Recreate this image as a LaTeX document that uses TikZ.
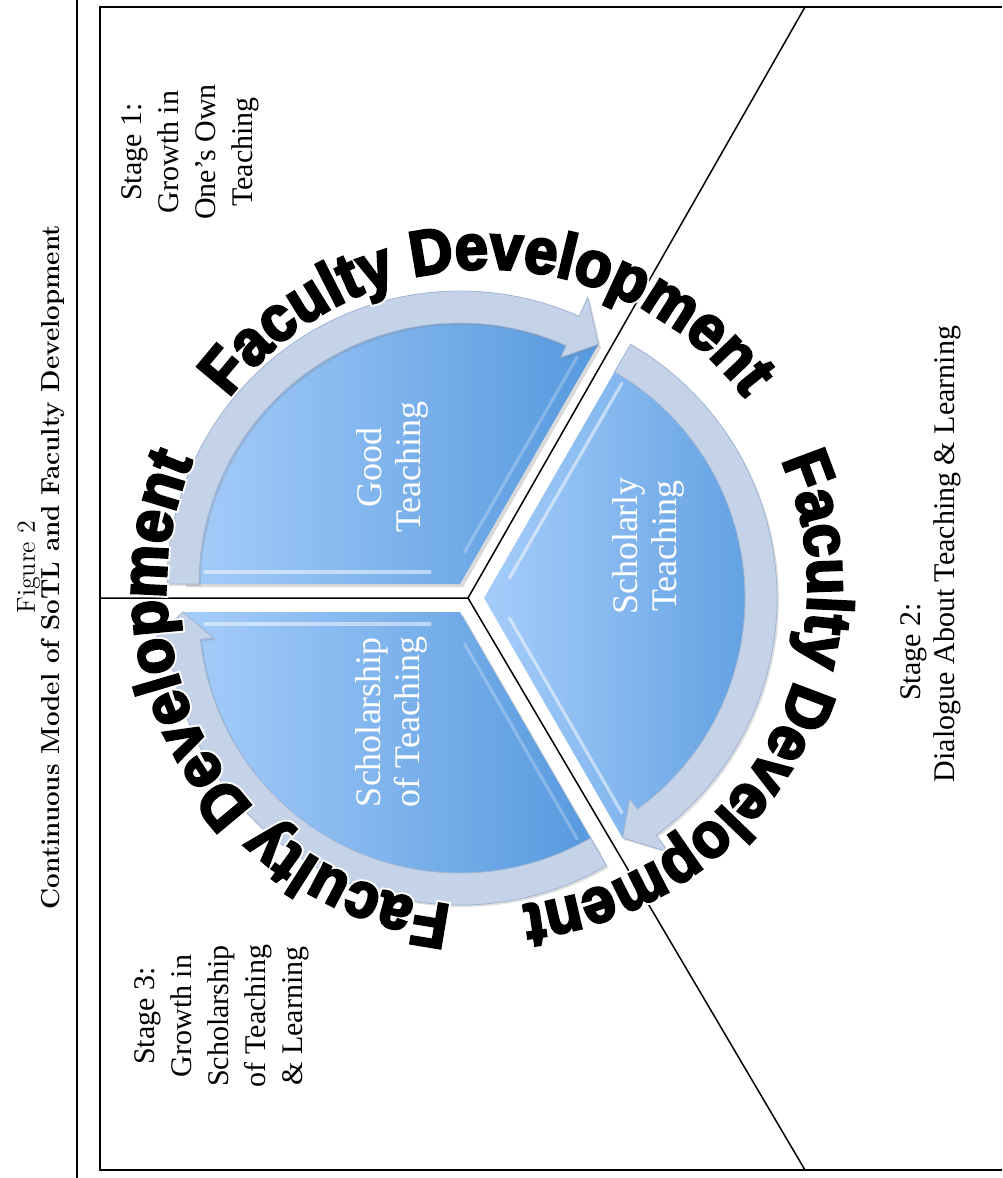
\documentclass[tikz,border=0pt]{standalone}
\usepackage{fontspec}
\usetikzlibrary{decorations.text,shadows}

\newfontfamily\stagefont{Liberation Serif}
\newfontfamily\wordart[FakeBold=4, FakeStretch=0.93]{Liberation Sans Bold}
\newfontfamily\wordhalo[FakeBold=10, FakeStretch=0.93]{Liberation Sans Bold}

\definecolor{pielight}{RGB}{166,205,250}
\definecolor{piedark}{RGB}{86,153,222}
\definecolor{ringfill}{RGB}{197,211,233}
\definecolor{ringedge}{RGB}{160,180,212}

\begin{document}
\begin{tikzpicture}[
  x=0.5pt, y=0.5pt,
  slice/.style={left color=pielight, right color=piedark,
    drop shadow={shadow xshift=1.5pt, shadow yshift=-1.5pt, opacity=0.3}},
  arrowring/.style={fill=ringfill, draw=ringedge, line width=0.4pt,
    drop shadow={shadow xshift=1pt, shadow yshift=-1pt, opacity=0.25}},
  edgeglint/.style={white, opacity=0.5, line width=1.6pt, line cap=round},
  divider/.style={line width=0.75pt},
  seglabel/.style={rotate=90, text=white, align=center,
    font=\stagefont\fontsize{18}{19.5}\selectfont},
  stagetext/.style={rotate=90, align=center,
    font=\stagefont\fontsize{15}{18.5}\selectfont},
  figtitle/.style={rotate=90, align=center, font=\fontsize{13}{12.5}\selectfont},
  wordring/.style={decorate, decoration={text along path, text align=center,
    text={|#1\fontsize{32}{32}\selectfont|Faculty Development}}}
]
  \useasboundingbox (0,0) rectangle (1002,-1178);

  % caption column and the page rule beside it
  \node[figtitle] (title) at (41,-567)
    {Figure 2\\\textbf{Continuous Model of SoTL and Faculty Development}};
  \draw[line width=1pt] (77,0) -- (77,-1178);

  % frame, open on the right
  \draw[line width=1.1pt] (1002,-7) -- (100,-7) -- (100,-1170) -- (1002,-1170);

  \coordinate (hub) at (468,-598);
  \coordinate (leftend) at (100,-598);
  \coordinate (topend) at (805,-7);
  \coordinate (botend) at (805,-1170);

  % Good Teaching
  \begin{scope}[shift={(460,-584)}]
    \shade[slice] (0,0) -- (180:277) arc[start angle=180, end angle=60, radius=277] -- cycle;
    \draw[edgeglint] ([shift={(90:12)}]180:30) -- ([shift={(90:12)}]180:255);
    \draw[edgeglint, opacity=0.25] ([shift={(150:12)}]60:30) -- ([shift={(150:12)}]60:255);
    \path[arrowring] (180:293) arc[start angle=180, end angle=66, radius=293]
      -- (66:314) -- (60:277) -- (66:248) -- (66:261)
      arc[start angle=66, end angle=180, radius=261] -- cycle;
  \end{scope}

  % Scholarly Teaching
  \begin{scope}[shift={(484,-598)}]
    \shade[slice] (0,0) -- (60:277) arc[start angle=60, end angle=-60, radius=277] -- cycle;
    \draw[edgeglint] ([shift={(-30:12)}]60:30) -- ([shift={(-30:12)}]60:255);
    \draw[edgeglint] ([shift={(30:12)}]-60:30) -- ([shift={(30:12)}]-60:255);
    \path[arrowring] (60:293) arc[start angle=60, end angle=-54, radius=293]
      -- (-54:314) -- (-60:277) -- (-54:248) -- (-54:261)
      arc[start angle=-54, end angle=60, radius=261] -- cycle;
  \end{scope}

  % Scholarship of Teaching
  \begin{scope}[shift={(460,-612)}]
    \shade[slice] (0,0) -- (-60:277) arc[start angle=-60, end angle=-180, radius=277] -- cycle;
    \draw[edgeglint, opacity=0.25] ([shift={(-150:12)}]-60:30) -- ([shift={(-150:12)}]-60:255);
    \draw[edgeglint] ([shift={(-90:12)}]-180:30) -- ([shift={(-90:12)}]-180:255);
    \path[arrowring] (-60:293) arc[start angle=-60, end angle=-174, radius=293]
      -- (-174:314) -- (-180:277) -- (-174:248) -- (-174:261)
      arc[start angle=-174, end angle=-60, radius=261] -- cycle;
  \end{scope}

  % stage boundaries
  \draw[divider] (leftend) -- (hub) -- (topend);
  \draw[divider] (hub) -- (botend);

  % lettering round the wheel, three times; white halo first
  \begin{scope}[shift={(487,-588)}]
    \path[wordring=\wordhalo\color{white}] (150:321 and 319) arc[start angle=150, end angle=30, x radius=321, y radius=319];
    \path[wordring=\wordhalo\color{white}] (30:321 and 319) arc[start angle=30, end angle=-90, x radius=321, y radius=319];
    \path[wordring=\wordhalo\color{white}] (-90:321 and 319) arc[start angle=-90, end angle=-210, x radius=321, y radius=319];
    \path[wordring=\wordart] (150:321 and 319) arc[start angle=150, end angle=30, x radius=321, y radius=319];
    \path[wordring=\wordart] (30:321 and 319) arc[start angle=30, end angle=-90, x radius=321, y radius=319];
    \path[wordring=\wordart] (-90:321 and 319) arc[start angle=-90, end angle=-210, x radius=321, y radius=319];
  \end{scope}

  \node[seglabel] (good) at (392,-467) {Good\\Teaching};
  \node[seglabel] (scholarly) at (648,-546) {Scholarly\\Teaching};
  \node[seglabel] (scholarship) at (391,-722) {Scholarship\\of Teaching};

  \node[stagetext] (stage1) at (190,-152) {Stage 1:\\Growth in\\One’s Own\\Teaching};
  \node[stagetext] (stage2) at (914,-652) {Stage 2:};
  \node[stagetext] (dialogue) at (947,-554) {Dialogue About Teaching \& Learning};
  \node[stagetext] (stage3) at (222,-1016) {Stage 3:\\Growth in\\Scholarship\\of Teaching\\\& Learning};
\end{tikzpicture}
\end{document}
